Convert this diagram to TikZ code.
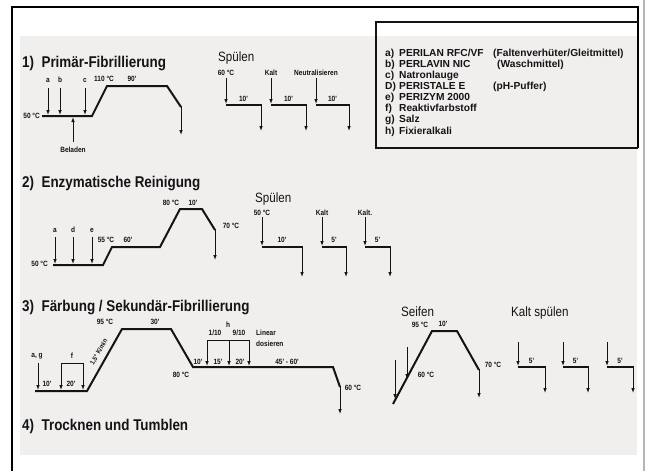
\documentclass[tikz,border=0pt]{standalone}
\usepackage{fontspec}
\setmainfont{Liberation Sans}
\newfontfamily\condfont[FakeStretch=0.86]{Liberation Sans}
\usetikzlibrary{arrows.meta}
\definecolor{scink}{HTML}{141414}
\definecolor{scpaper}{HTML}{F1EEEE}
\definecolor{scedge}{HTML}{B8B4B4}
\tikzset{
  sc title/.style={font=\condfont\bfseries\fontsize{15.6}{15.6}\selectfont, text=scink,
    anchor=base west, inner sep=0pt},
  sc head/.style={font=\condfont\fontsize{13.5}{13.5}\selectfont, text=scink,
    anchor=base west, inner sep=0pt},
  sc small/.style={font=\condfont\bfseries\fontsize{7.6}{7.6}\selectfont, text=scink,
    inner sep=0pt},
  sc recipe/.style={font=\bfseries\fontsize{10.2}{10.2}\selectfont, text=scink,
    anchor=base west, inner sep=0pt},
  sc profile/.style={draw=scink, line width=2pt, line join=miter},
  sc thin/.style={draw=scink, line width=0.9pt},
  sc arrow/.style={draw=scink, line width=0.9pt, -{Latex[length=5pt,width=3.6pt]}},
  sc frame/.style={draw=black, line width=1.6pt}
}

\begin{document}
\begin{tikzpicture}[x=1pt, y=-1pt]
  \useasboundingbox (0,0) rectangle (652,471);
  % scanned page
  \fill[scpaper] (20,36) rectangle (637,455);
  \draw[scedge, line width=1.2pt] (644,0) -- (644,471);
  \draw[sc frame] (12,471) -- (12,7) -- (638,7) -- (638,148);
  \draw[sc thin, line width=1.1pt] (638,22) -- (376,22) -- (376,148) -- (638,148);

  % recipe
  \foreach \k/\name [count=\i from 0] in {a)/{PERILAN RFC/VF}, b)/{PERLAVIN NIC},
      c)/{Natronlauge}, D)/{PERISTALE E}, e)/{PERIZYM 2000}, f)/{Reaktivfarbstoff},
      g)/{Salz}, h)/{Fixieralkali}} {
    \node[sc recipe] (k\i) at (385,{56+\i*11.15}) {\k};
    \node[sc recipe] (r\i) at (399,{56+\i*11.15}) {\name};
  }
  \node[sc recipe] (n0) at (493,56) {(Faltenverhüter/Gleitmittel)};
  \node[sc recipe] (n1) at (497,67.2) {(Waschmittel)};
  \node[sc recipe] (n3) at (493,89.5) {(pH-Puffer)};

  % 1) Primaer-Fibrillierung
  \node[sc title] (t1) at (22,67) {1)\ \ Primär-Fibrillierung};
  \node[sc head] (s1) at (218,61) {Spülen};
  \draw[sc profile] (42,116) -- (92,116) -- (107,86) -- (167,86) -- (181,107);
  \draw[sc arrow] (181,106) -- (181,135);
  \foreach \x/\l in {48/a, 60/b, 85/c} {
    \draw[sc arrow] (\x,88) -- (\x,115);
    \node[sc small] at (\x,80) {\l};
  }
  \draw[sc arrow] (73,142) -- (73,117);
  \node[sc small] (bel) at (73,150) {Beladen};
  \node[sc small, anchor=east] at (40,116) {50 °C};
  \node[sc small] at (104,79) {110 °C};
  \node[sc small] at (132,79) {90'};
  \foreach \xa/\xb/\lab in {226/261/{60 °C}, 271/306/Kalt, 316/349/Neutralisieren} {
    \draw[sc arrow] (\xa,78) -- (\xa,104);
    \draw[sc profile] (\xa,105) -- (\xb,105);
    \draw[sc arrow] (\xb,104) -- (\xb,131);
    \node[sc small, anchor=south] at (\xa,76) {\lab};
    \node[sc small] at ({(\xa+\xb)/2},99) {10'};
  }

  % 2) Enzymatische Reinigung
  \node[sc title] (t2) at (22,187) {2)\ \ Enzymatische Reinigung};
  \node[sc head] (s2) at (255,202) {Spülen};
  \draw[sc profile] (53,265) -- (103,265) -- (112,247) -- (160,247) -- (180,209)
    -- (202,209) -- (215,230);
  \draw[sc arrow] (215,229) -- (215,260);
  \foreach \x/\l in {55/a, 73/d, 92/e} {
    \draw[sc arrow] (\x,237) -- (\x,264);
    \node[sc small] at (\x,230) {\l};
  }
  \node[sc small, anchor=east] at (48,264) {50 °C};
  \node[sc small] at (106,240) {55 °C};
  \node[sc small] at (128,240) {60'};
  \node[sc small] at (171,203) {80 °C};
  \node[sc small] at (193,203) {10'};
  \node[sc small] at (231,226) {70 °C};
  \foreach \xa/\xb/\lab/\t in {262/302/{50 °C}/10', 322/346/Kalt/5', 365/390/Kalt./5'} {
    \draw[sc arrow] (\xa,217) -- (\xa,246);
    \draw[sc profile] (\xa,247) -- (\xb,247);
    \draw[sc arrow] (\xb,246) -- (\xb,277);
    \node[sc small, anchor=south] at (\xa,216) {\lab};
    \node[sc small] at ({(\xa+\xb)/2},240) {\t};
  }

  % 3) Faerbung / Sekundaer-Fibrillierung
  \node[sc title] (t3) at (22,311) {3)\ \ Färbung / Sekundär-Fibrillierung};
  \draw[sc profile] (35,391) -- (87,391) -- (122,329) -- (171,329) -- (193,367)
    -- (333,367) -- (340,387);
  \draw[sc arrow] (340,386) -- (340,414);
  \draw[sc arrow] (38,363) -- (38,390);
  \node[sc small] at (37,356) {a, g};
  \node[sc small] at (47,384) {10'};
  \draw[sc thin] (61,363) -- (83,363);
  \foreach \x in {61, 83} \draw[sc arrow] (\x,363) -- (\x,390);
  \node[sc small] at (72,356) {f};
  \node[sc small] at (71,384) {20'};
  \node[sc small, font=\condfont\bfseries\fontsize{6.8}{6.8}\selectfont, rotate=60]
    at (99,352) {1,5° K/min};
  \node[sc small] at (105,322) {95 °C};
  \node[sc small] at (155,322) {30'};
  \node[sc small] at (181,375) {80 °C};
  \node[sc small] at (198,362) {10'};
  \draw[sc thin] (207,340) -- (249,340);
  \foreach \x in {207, 229, 249} \draw[sc arrow] (\x,340) -- (\x,366);
  \node[sc small] at (228,325) {h};
  \node[sc small] at (215,333) {1/10};
  \node[sc small] at (239,333) {9/10};
  \node[sc small] at (218,362) {15'};
  \node[sc small] at (240,362) {20'};
  \node[sc small, anchor=west] at (256,333) {Linear};
  \node[sc small, anchor=west] at (256,344) {dosieren};
  \node[sc small] at (287,362) {45' - 60'};
  \node[sc small] at (353,388) {60 °C};

  % Seifen
  \node[sc head] (s3) at (401,316) {Seifen};
  \draw[sc profile] (393,404) -- (432,331) -- (457,331) -- (479,370);
  \draw[sc arrow] (479,369) -- (479,398);
  \draw[sc arrow] (395,360) -- (395,399);
  \draw[sc arrow] (407,347) -- (407,379);
  \node[sc small] at (420,325) {95 °C};
  \node[sc small] at (443,324) {10'};
  \node[sc small] at (493,365) {70 °C};
  \node[sc small] at (426,375) {60 °C};

  % Kalt spuelen
  \node[sc head] (s4) at (511,316) {Kalt spülen};
  \foreach \xa/\xb in {518/545, 563/588, 607/633} {
    \draw[sc arrow] (\xa,342) -- (\xa,366);
    \draw[sc profile] (\xa,367) -- (\xb,367);
    \draw[sc arrow] (\xb,366) -- (\xb,393);
    \node[sc small] at ({(\xa+\xb)/2},361) {5'};
  }

  % 4) Trocknen und Tumblen
  \node[sc title] (t4) at (22,430) {4)\ \ Trocknen und Tumblen};
\end{tikzpicture}
\end{document}
